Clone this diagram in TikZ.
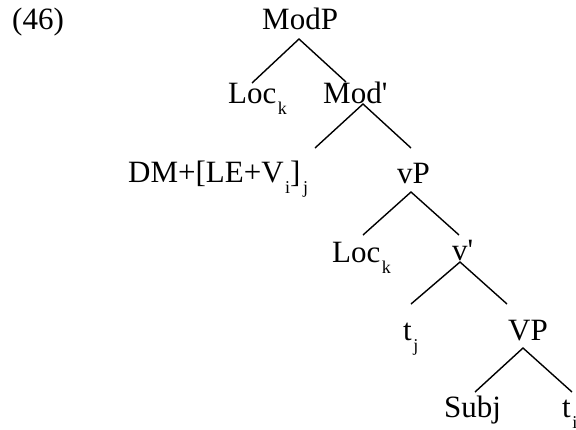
\documentclass[tikz,border=0pt]{standalone}
\usepackage{fontspec}
\setmainfont{Liberation Serif}[Ligatures=TeXOff]
\newcommand\lsub[1]{\kern1.5pt\raisebox{-11pt}{\fontsize{18}{18}\selectfont #1}}
\begin{document}
\begin{tikzpicture}[x=1pt,y=-1pt,
  lbl/.style={anchor=base west,inner sep=0pt,font=\fontsize{31}{36}\selectfont},
  branch/.style={line width=1.4pt}]
\useasboundingbox (0,0) rectangle (576,429);
% labels
\node[lbl] (ex) at (12,29) {(46)};
\node[lbl] (modp) at (262,29) {ModP};
\node[lbl] (lock1) at (228,103) {Loc\lsub{k}};
\node[lbl] (modbar) at (323,103) {Mod'};
\node[lbl] (dm) at (128,182) {DM+[LE+V\lsub{i}]\kern1pt\lsub{j}};
\node[lbl] (vp) at (397,183) {vP};
\node[lbl] (lock2) at (332,262) {Loc\lsub{k}};
\node[lbl] (vbar) at (452,260) {v'};
\node[lbl] (tj) at (403,340) {t\lsub{j}};
\node[lbl] (VP) at (508,340) {VP};
\node[lbl] (subj) at (444,417) {Subj};
\node[lbl] (ti) at (562,417) {t\lsub{i}};
% branch points
\coordinate (modp-b) at (299,39);
\coordinate (lock1-t) at (252,83);
\coordinate (modbar-t) at (346,82);
\coordinate (modbar-b) at (363,104);
\coordinate (dm-t) at (315,148);
\coordinate (vp-t) at (411,148);
\coordinate (vp-b) at (411,192);
\coordinate (lock2-t) at (363,235);
\coordinate (vbar-t) at (459,235);
\coordinate (vbar-b) at (460,262);
\coordinate (tj-t) at (411,304);
\coordinate (VP-t) at (507,304);
\coordinate (VP-b) at (523,348);
\coordinate (subj-t) at (475,392);
\coordinate (ti-t) at (572,392);
% branches
\draw[branch] (lock1-t) -- (modp-b) -- (modbar-t);
\draw[branch] (dm-t) -- (modbar-b) -- (vp-t);
\draw[branch] (lock2-t) -- (vp-b) -- (vbar-t);
\draw[branch] (tj-t) -- (vbar-b) -- (VP-t);
\draw[branch] (subj-t) -- (VP-b) -- (ti-t);
\end{tikzpicture}
\end{document}
